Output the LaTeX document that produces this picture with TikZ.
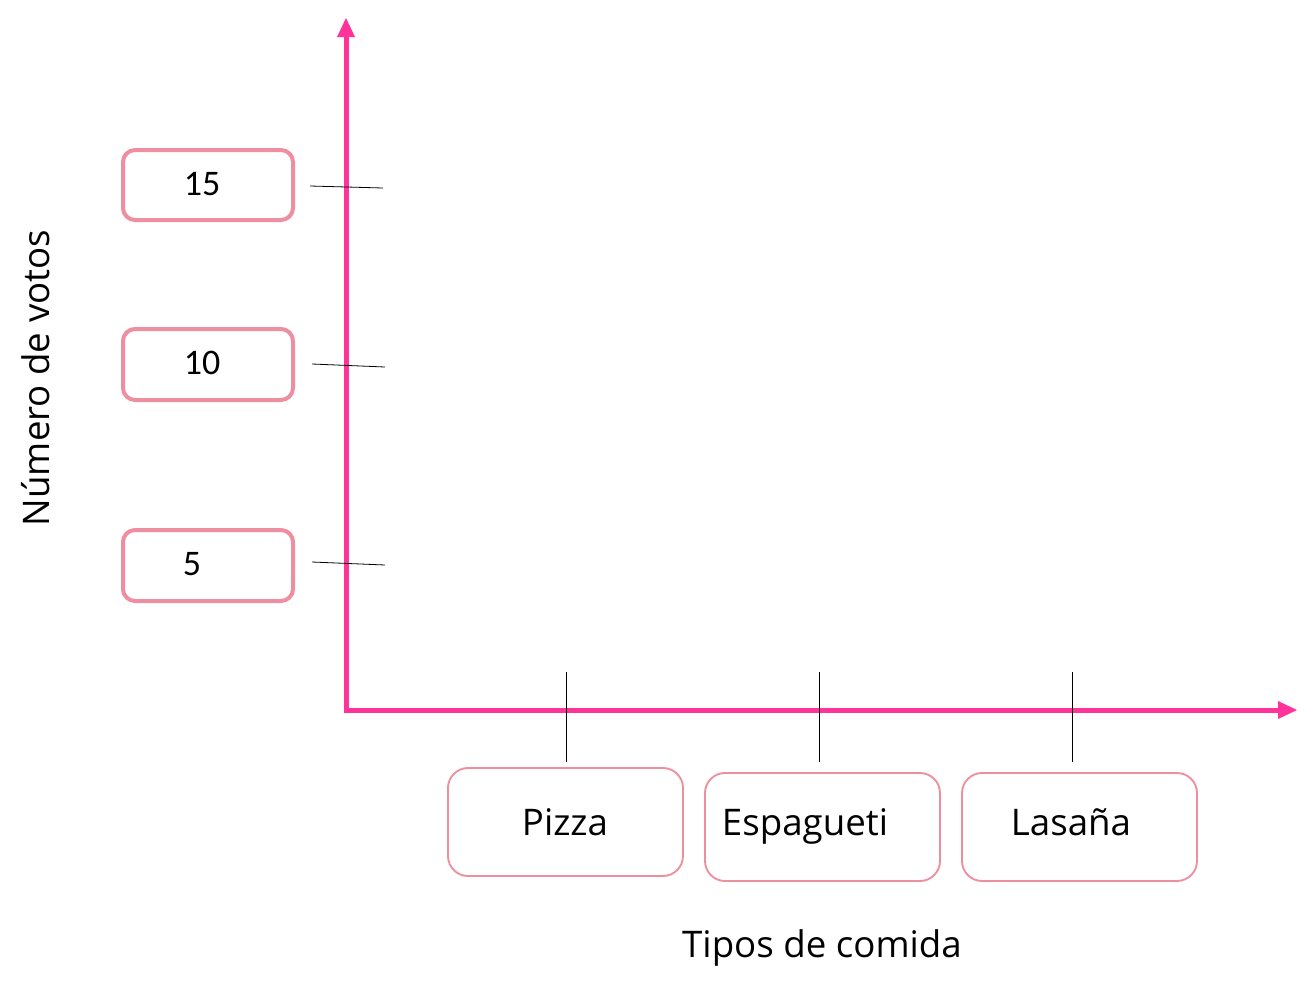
\documentclass[tikz,border=0pt]{standalone}
\usepackage{fontspec}
\setmainfont{Open Sans}
\newfontfamily\numfont{Carlito}
\definecolor{axpink}{RGB}{255,51,153}
\definecolor{boxpink}{RGB}{238,143,160}
\begin{document}
\begin{tikzpicture}[x=0.75pt,y=-0.75pt,
  axis/.style={draw=axpink,line width=3.75pt},
  numbox/.style={draw=boxpink,line width=3pt,rounded corners=9pt,fill=white},
  catbox/.style={draw=boxpink,line width=1.4pt,rounded corners=15pt,fill=white},
  tickl/.style={draw=black,line width=0.6pt},
  numtxt/.style={font=\numfont\fontsize{27}{30}\selectfont,inner sep=0pt,anchor=center},
  cattxt/.style={font=\fontsize{27.5}{30}\selectfont,inner sep=0pt,anchor=base},
]
\useasboundingbox (0,0) rectangle (1314,989);
% boxes
\draw[numbox] (123,150) rectangle (293,220);
\draw[numbox] (123,329) rectangle (293,400);
\draw[numbox] (123,530) rectangle (293,601);
\node[numtxt] (n15) at (202,184) {15};
\node[numtxt] (n10) at (202,363) {10};
\node[numtxt] (n5) at (192,564) {5};
\draw[catbox] (448,768) rectangle (683,876);
\draw[catbox] (705,773) rectangle (940,881);
\draw[catbox] (962,773) rectangle (1197,881);
\node[cattxt] (pizza) at (565,835) {Pizza};
\node[cattxt] (esp) at (805,835) {Espagueti};
\node[cattxt] (las) at (1071,835) {Lasaña};
\node[cattxt] (xlab) at (822,957) {Tipos de comida};
\node[cattxt,rotate=90] (ylab) at (49,378) {Número de votos};
% axes
\coordinate (O) at (346,710);
\coordinate (ytop) at (346,37);
\coordinate (xend) at (1278,710);
\draw[axis] (346,712) -- (ytop);
\draw[axis] (344,710) -- (xend);
\fill[axpink] (337,37) -- (346,18) -- (355,37) -- cycle;
\fill[axpink] (1278,701) -- (1297,710) -- (1278,719) -- cycle;
% ticks
\coordinate (t15a) at (310,186); \coordinate (t15b) at (383,188);
\coordinate (t10a) at (312,364); \coordinate (t10b) at (385,367);
\coordinate (t5a) at (312,562); \coordinate (t5b) at (385,565);
\draw[tickl] (t15a) -- (t15b);
\draw[tickl] (t10a) -- (t10b);
\draw[tickl] (t5a) -- (t5b);
\coordinate (xa1) at (566,672); \coordinate (xb1) at (566,762);
\coordinate (xa2) at (819,672); \coordinate (xb2) at (819,762);
\coordinate (xa3) at (1072,672); \coordinate (xb3) at (1072,762);
\draw[tickl] (xa1) -- (xb1);
\draw[tickl] (xa2) -- (xb2);
\draw[tickl] (xa3) -- (xb3);
\end{tikzpicture}
\end{document}
